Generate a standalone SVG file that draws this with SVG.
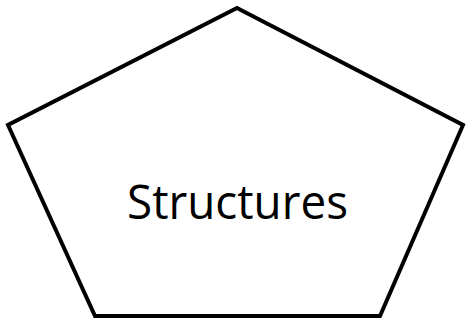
<svg xmlns="http://www.w3.org/2000/svg" width="467" height="320" viewBox="0 0 467 320">
<style>
.shape{fill:#fff;stroke:#000;stroke-width:4;stroke-linejoin:miter}
.lbl{font-family:"Open Sans","Liberation Sans",sans-serif;font-size:47px;fill:#000;text-anchor:middle}
</style>
<rect width="467" height="320" fill="#fff"/>
<g id="structures">
<polygon class="shape" points="237,8 463,125 380,316 95,316 8,125"/>
<text class="lbl" x="237.5" y="219" textLength="221" lengthAdjust="spacingAndGlyphs">Structures</text>
</g>
</svg>
